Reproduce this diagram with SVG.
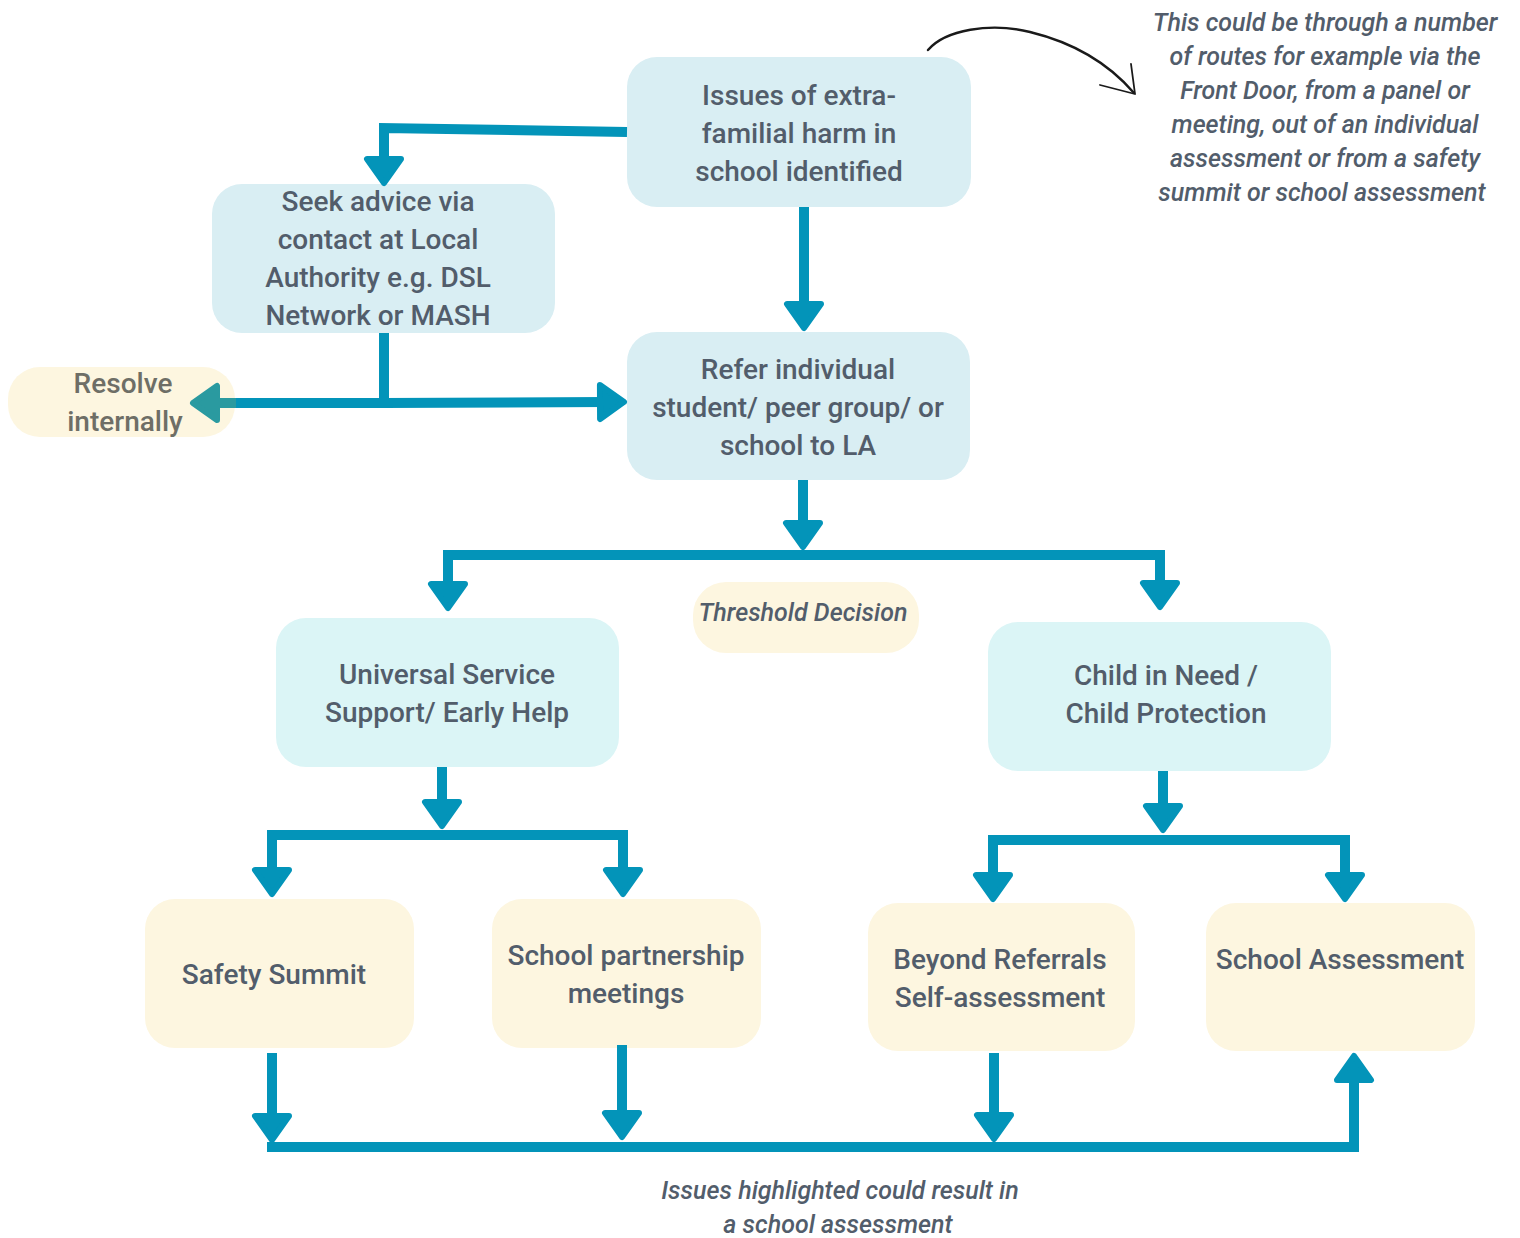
<svg xmlns="http://www.w3.org/2000/svg" width="1520" height="1238" viewBox="0 0 1520 1238">
<style>
.nb{fill:#d9eef3}
.nc{fill:#dbf5f6}
.ny{fill:#fdf6e0}
.t{font-family:Roboto,"Liberation Sans",sans-serif;font-size:28px;font-weight:500;fill:#525d6b;text-anchor:middle}
.tr{fill:#6e6e66}
.i{font-family:Roboto,"Liberation Sans",sans-serif;font-size:25px;font-weight:500;font-style:italic;fill:#525d6b;text-anchor:middle}
.c{fill:none;stroke:#0394b9;stroke-width:10;stroke-linejoin:miter}
.ct{fill:none;stroke:#2a9aa0;stroke-width:10}
</style>
<defs>
<marker id="ah" markerUnits="userSpaceOnUse" viewBox="-32 -22 34 44" markerWidth="34" markerHeight="44" refX="-20" refY="0" orient="auto" overflow="visible">
<path d="M-27,-17 L-3,0 L-27,17 Z" fill="#0394b9" stroke="#0394b9" stroke-width="6" stroke-linejoin="round"/>
</marker>
<marker id="aht" markerUnits="userSpaceOnUse" viewBox="-32 -22 34 44" markerWidth="34" markerHeight="44" refX="-20" refY="0" orient="auto" overflow="visible">
<path d="M-27,-17 L-3,0 L-27,17 Z" fill="#2a9aa0" stroke="#2a9aa0" stroke-width="6" stroke-linejoin="round"/>
</marker>
</defs>

<g id="node-issues">
<rect class="nb" x="627" y="57" width="344" height="150" rx="30"/>
<text class="t" x="799" y="105">Issues of extra-</text>
<text class="t" x="799" y="143">familial harm in</text>
<text class="t" x="799" y="181">school identified</text>
</g>
<g id="node-seek">
<rect class="nb" x="212" y="184" width="343" height="149" rx="30"/>
<text class="t" x="378" y="211">Seek advice via</text>
<text class="t" x="378" y="249">contact at Local</text>
<text class="t" x="378" y="287">Authority e.g. DSL</text>
<text class="t" x="378" y="325">Network or MASH</text>
</g>
<g id="node-resolve">
<rect class="ny" x="8" y="367" width="227" height="70" rx="32"/>
<text class="t tr" x="123" y="393">Resolve</text>
<text class="t tr" x="125" y="431">internally</text>
</g>
<g id="node-refer">
<rect class="nb" x="627" y="332" width="343" height="148" rx="30"/>
<text class="t" x="798" y="379">Refer individual</text>
<text class="t" x="798" y="417">student/ peer group/ or</text>
<text class="t" x="798" y="455">school to LA</text>
</g>
<g id="node-threshold">
<rect class="ny" x="693" y="582" width="226" height="71" rx="33"/>
<text class="i" x="803" y="621">Threshold Decision</text>
</g>
<g id="node-universal">
<rect class="nc" x="276" y="618" width="343" height="149" rx="30"/>
<text class="t" x="447" y="684">Universal Service</text>
<text class="t" x="447" y="722">Support/ Early Help</text>
</g>
<g id="node-child">
<rect class="nc" x="988" y="622" width="343" height="149" rx="30"/>
<text class="t" x="1166" y="685">Child in Need /</text>
<text class="t" x="1166" y="723">Child Protection</text>
</g>
<g id="node-safety">
<rect class="ny" x="145" y="899" width="269" height="149" rx="30"/>
<text class="t" x="274" y="984">Safety Summit</text>
</g>
<g id="node-partnership">
<rect class="ny" x="492" y="899" width="269" height="149" rx="30"/>
<text class="t" x="626" y="965">School partnership</text>
<text class="t" x="626" y="1003">meetings</text>
</g>
<g id="node-beyond">
<rect class="ny" x="868" y="903" width="267" height="148" rx="30"/>
<text class="t" x="1000" y="969">Beyond Referrals</text>
<text class="t" x="1000" y="1007">Self-assessment</text>
</g>
<g id="node-schoolassessment">
<rect class="ny" x="1206" y="903" width="269" height="148" rx="30"/>
<text class="t" x="1340" y="969">School Assessment</text>
</g>

<g id="connectors">
<path class="c" d="M627,132 L384,128 L384,166" marker-end="url(#ah)"/>
<path class="c" d="M804,207 V311" marker-end="url(#ah)"/>
<path class="c" d="M384,333 V403"/>
<path class="c" d="M384,403 L607,402" marker-end="url(#ah)"/>
<path class="c" d="M389,403 H235"/>
<path class="ct" d="M236,403 H210" marker-end="url(#aht)"/>
<path class="c" d="M803,480 V530" marker-end="url(#ah)"/>
<path class="c" d="M803,555 H448 V591" marker-end="url(#ah)"/>
<path class="c" d="M803,555 H1160 V590" marker-end="url(#ah)"/>
<path class="c" d="M442,767 V809" marker-end="url(#ah)"/>
<path class="c" d="M442,835 H272 V877" marker-end="url(#ah)"/>
<path class="c" d="M442,835 H623 V877" marker-end="url(#ah)"/>
<path class="c" d="M1163,771 V813" marker-end="url(#ah)"/>
<path class="c" d="M1163,840 H993 V882" marker-end="url(#ah)"/>
<path class="c" d="M1163,840 H1345 V882" marker-end="url(#ah)"/>
<path class="c" d="M272,1053 V1123" marker-end="url(#ah)"/>
<path class="c" d="M622,1045 V1120" marker-end="url(#ah)"/>
<path class="c" d="M994,1053 V1122" marker-end="url(#ah)"/>
<path class="c" d="M267,1147 H1354 V1073" marker-end="url(#ah)"/>
<path d="M928,50 C945,30 990,22 1030,32 C1075,43 1110,65 1134,93" fill="none" stroke="#1a1a1a" stroke-width="2.4" stroke-linecap="round"/>
<path d="M1131,64 L1135,94 L1100,85" fill="none" stroke="#1a1a1a" stroke-width="1.8" stroke-linecap="round" stroke-linejoin="round"/>
</g>

<g id="annotation">
<text class="i" x="1325" y="31">This could be through a number</text>
<text class="i" x="1325" y="65">of routes for example via the</text>
<text class="i" x="1325" y="99">Front Door, from a panel or</text>
<text class="i" x="1325" y="133">meeting, out of an individual</text>
<text class="i" x="1325" y="167">assessment or from a safety</text>
<text class="i" x="1322" y="201">summit or school assessment</text>
<text class="i" x="840" y="1199">Issues highlighted could result in</text>
<text class="i" x="838" y="1233">a school assessment</text>
</g>
</svg>
